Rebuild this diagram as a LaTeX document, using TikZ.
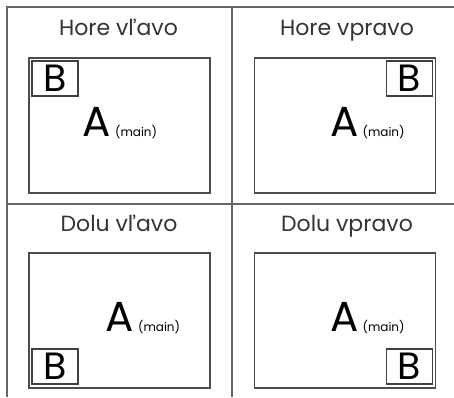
\documentclass[tikz,border=0pt]{standalone}
\usepackage{fontspec}
\setmainfont{Poppins}
\usetikzlibrary{positioning}

\begin{document}
\begin{tikzpicture}[x=0.5pt, y=-0.5pt,
        grid/.style={draw=black!60, line width=0.7pt},
        screen/.style={draw=black!70, line width=0.6pt, minimum width=90.5pt, minimum height=67.5pt, inner sep=0pt},
        bbox/.style={draw=black!75, line width=0.6pt, minimum width=23pt, minimum height=17.5pt, inner sep=0pt, font=\fontsize{19}{19}\selectfont},
        title/.style={anchor=base, inner sep=0pt, font=\fontsize{11}{12}\selectfont, text=black!80},
        mainA/.style={anchor=base west, inner sep=0pt, font=\fontsize{21}{21}\selectfont}]
        \useasboundingbox (0,0) rectangle (454,397);

        \draw[grid] (7,397) -- (7,7) -- (454,7);
        \draw[grid] (7,204) -- (454,204);
        \draw[grid] (232,7) -- (232,397);

        \node[screen] (tlS) at (119.5,125.5) {};
        \node[screen] (trS) at (345,125.5) {};
        \node[screen] (blS) at (119.5,320.5) {};
        \node[screen] (brS) at (345,320.5) {};

        \node[title] (tlT) at (118.5,35) {Hore vľavo};
        \node[title] (trT) at (347,35) {Hore vpravo};
        \node[title] (blT) at (119,231) {Dolu vľavo};
        \node[title] (brT) at (347,231) {Dolu vpravo};

        \node[bbox, anchor=north west] (tlB) at ([shift={(3,3)}]tlS.north west) {B};
        \node[bbox, anchor=north east] (trB) at ([shift={(-3,3)}]trS.north east) {B};
        \node[bbox, anchor=south west] (blB) at ([shift={(3,-4)}]blS.south west) {B};
        \node[bbox, anchor=south east] (brB) at ([shift={(-3,-4)}]brS.south east) {B};

        \node[mainA] (tlA) at ([shift={(54,79)}]tlS.north west) {A\hspace{2pt}{\fontsize{6}{6}\selectfont(main)}};
        \node[mainA] (trA) at ([shift={(76,79)}]trS.north west) {A\hspace{2pt}{\fontsize{6}{6}\selectfont(main)}};
        \node[mainA] (blA) at ([shift={(77,79)}]blS.north west) {A\hspace{2pt}{\fontsize{6}{6}\selectfont(main)}};
        \node[mainA] (brA) at ([shift={(76,79)}]brS.north west) {A\hspace{2pt}{\fontsize{6}{6}\selectfont(main)}};
    \end{tikzpicture}
\end{document}
